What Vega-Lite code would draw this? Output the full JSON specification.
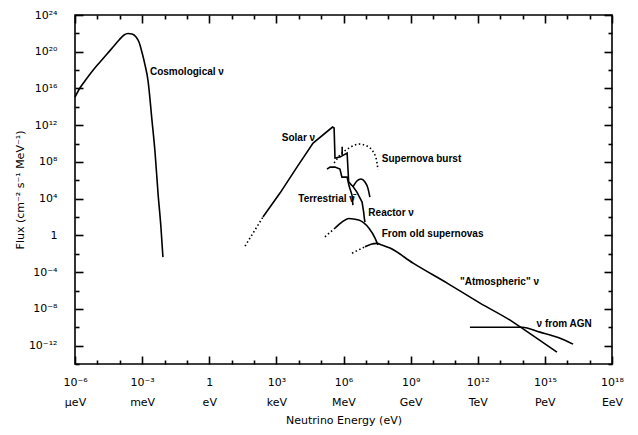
{
  "$schema": "https://vega.github.io/schema/vega-lite/v6.json",
  "width": 537,
  "height": 349,
  "autosize": {"type": "none"},
  "padding": {"left": 75, "top": 15, "right": 26, "bottom": 71},
  "background": "white",
  "config": {
    "view": {"stroke": "black", "strokeWidth": 1.6},
    "font": "Liberation Sans",
    "axis": {"ticks": true, "zindex": 1, "domain": false, "grid": false, "tickColor": "black", "tickWidth": 1.6, "tickOpacity": 1, "labelColor": "black", "titleColor": "black", "labelFont": "DejaVu Sans", "titleFont": "DejaVu Sans", "labelFontSize": 11, "titleFontSize": 11, "titleFontWeight": "normal", "labelOverlap": false, "labelFlush": false, "labelBound": false}
  },
  "datasets": {
    "curves": [
      {"s": "cosmo", "d": "solid", "k": "smooth", "i": 1, "E": 1e-6, "F": 1.17e15},
      {"s": "cosmo", "d": "solid", "k": "smooth", "i": 2, "E": 1.66e-6, "F": 1.12e16},
      {"s": "cosmo", "d": "solid", "k": "smooth", "i": 3, "E": 3.47e-6, "F": 1.38e17},
      {"s": "cosmo", "d": "solid", "k": "smooth", "i": 4, "E": 7.08e-6, "F": 1.32e18},
      {"s": "cosmo", "d": "solid", "k": "smooth", "i": 5, "E": 1.32e-5, "F": 7.59e18},
      {"s": "cosmo", "d": "solid", "k": "smooth", "i": 6, "E": 2.69e-5, "F": 5.62e19},
      {"s": "cosmo", "d": "solid", "k": "smooth", "i": 7, "E": 5.01e-5, "F": 3.24e20},
      {"s": "cosmo", "d": "solid", "k": "smooth", "i": 8, "E": 9.33e-5, "F": 1.91e21},
      {"s": "cosmo", "d": "solid", "k": "smooth", "i": 9, "E": 1.55e-4, "F": 6.61e21},
      {"s": "cosmo", "d": "solid", "k": "smooth", "i": 10, "E": 2.34e-4, "F": 9.55e21},
      {"s": "cosmo", "d": "solid", "k": "smooth", "i": 11, "E": 3.55e-4, "F": 8.51e21},
      {"s": "cosmo", "d": "solid", "k": "smooth", "i": 12, "E": 5.37e-4, "F": 3.98e21},
      {"s": "cosmo", "d": "solid", "k": "smooth", "i": 13, "E": 7.24e-4, "F": 1.15e21},
      {"s": "cosmo", "d": "solid", "k": "smooth", "i": 14, "E": 9.77e-4, "F": 9.33e19},
      {"s": "cosmo", "d": "solid", "k": "smooth", "i": 15, "E": 1.35e-3, "F": 3.55e18},
      {"s": "cosmo", "d": "solid", "k": "smooth", "i": 16, "E": 1.82e-3, "F": 8.32e16},
      {"s": "cosmo", "d": "solid", "k": "smooth", "i": 17, "E": 2.75e-3, "F": 3.63e12},
      {"s": "cosmo", "d": "solid", "k": "smooth", "i": 18, "E": 3.80e-3, "F": 9.33e8},
      {"s": "cosmo", "d": "solid", "k": "smooth", "i": 19, "E": 5.13e-3, "F": 4.07e4},
      {"s": "cosmo", "d": "solid", "k": "smooth", "i": 20, "E": 6.92e-3, "F": 8.13},
      {"s": "cosmo", "d": "solid", "k": "smooth", "i": 21, "E": 8.51e-3, "F": 4.37e-3},

      {"s": "solar_dot", "d": "dotted", "k": "lin", "i": 1, "E": 39.8, "F": 6.92e-2},
      {"s": "solar_dot", "d": "dotted", "k": "lin", "i": 2, "E": 251, "F": 100},

      {"s": "solar", "d": "solid", "k": "lin", "i": 1, "E": 251, "F": 100},
      {"s": "solar", "d": "solid", "k": "lin", "i": 2, "E": 1.45e3, "F": 4.07e4},
      {"s": "solar", "d": "solid", "k": "lin", "i": 3, "E": 8.32e3, "F": 2.75e7},
      {"s": "solar", "d": "solid", "k": "lin", "i": 4, "E": 4.37e4, "F": 1.15e10},
      {"s": "solar", "d": "solid", "k": "lin", "i": 5, "E": 3.24e5, "F": 6.31e11},
      {"s": "solar", "d": "solid", "k": "lin", "i": 6, "E": 3.80e5, "F": 5.01e11},
      {"s": "solar", "d": "solid", "k": "lin", "i": 7, "E": 4.17e5, "F": 2.63e8},
      {"s": "solar", "d": "solid", "k": "lin", "i": 8, "E": 6.92e5, "F": 3.39e8},
      {"s": "solar", "d": "solid", "k": "lin", "i": 9, "E": 1.45e6, "F": 9.33e8},
      {"s": "solar", "d": "solid", "k": "lin", "i": 10, "E": 1.70e6, "F": 6.92e5},
      {"s": "solar", "d": "solid", "k": "lin", "i": 11, "E": 2.40e6, "F": 2.51e5},

      {"s": "be7", "d": "solid", "k": "lin", "i": 1, "E": 8.71e5, "F": 4.47e9},
      {"s": "be7", "d": "solid", "k": "lin", "i": 2, "E": 8.71e5, "F": 5.62e8},

      {"s": "terr", "d": "solid", "k": "lin", "i": 1, "E": 1.82e5, "F": 1.66e7},
      {"s": "terr", "d": "solid", "k": "lin", "i": 2, "E": 2.51e5, "F": 2.75e7},
      {"s": "terr", "d": "solid", "k": "lin", "i": 3, "E": 4.17e5, "F": 2.75e7},
      {"s": "terr", "d": "solid", "k": "lin", "i": 4, "E": 6.92e5, "F": 1.66e7},
      {"s": "terr", "d": "solid", "k": "lin", "i": 5, "E": 8.51e5, "F": 2.24e6},
      {"s": "terr", "d": "solid", "k": "lin", "i": 6, "E": 1.45e6, "F": 2.24e6},
      {"s": "terr", "d": "solid", "k": "lin", "i": 7, "E": 1.78e6, "F": 2.34e5},
      {"s": "terr", "d": "solid", "k": "lin", "i": 8, "E": 2.40e6, "F": 2.45e4},
      {"s": "terr", "d": "solid", "k": "lin", "i": 9, "E": 2.63e6, "F": 2.00e3},

      {"s": "reactor", "d": "solid", "k": "lin", "i": 1, "E": 2.40e6, "F": 3.02e5},
      {"s": "reactor", "d": "solid", "k": "lin", "i": 2, "E": 3.98e6, "F": 5.25e4},
      {"s": "reactor", "d": "solid", "k": "lin", "i": 3, "E": 6.76e6, "F": 4.27e3},
      {"s": "reactor", "d": "solid", "k": "lin", "i": 4, "E": 7.94e6, "F": 372},
      {"s": "reactor", "d": "solid", "k": "lin", "i": 5, "E": 8.51e6, "F": 77.6},
      {"s": "reactor", "d": "solid", "k": "lin", "i": 6, "E": 9.12e6, "F": 28.2},

      {"s": "reactor_arc", "d": "solid", "k": "smooth", "i": 1, "E": 2.63e6, "F": 1.82e5},
      {"s": "reactor_arc", "d": "solid", "k": "smooth", "i": 2, "E": 3.98e6, "F": 8.32e5},
      {"s": "reactor_arc", "d": "solid", "k": "smooth", "i": 3, "E": 6.03e6, "F": 1.38e6},
      {"s": "reactor_arc", "d": "solid", "k": "smooth", "i": 4, "E": 9.12e6, "F": 6.46e5},
      {"s": "reactor_arc", "d": "solid", "k": "smooth", "i": 5, "E": 1.23e7, "F": 1.41e5},
      {"s": "reactor_arc", "d": "solid", "k": "smooth", "i": 6, "E": 1.51e7, "F": 1.48e4},

      {"s": "snburst", "d": "dotted", "k": "smooth", "i": 1, "E": 3.80e5, "F": 7.59e7},
      {"s": "snburst", "d": "dotted", "k": "smooth", "i": 2, "E": 8.51e5, "F": 9.33e8},
      {"s": "snburst", "d": "dotted", "k": "smooth", "i": 3, "E": 1.78e6, "F": 3.24e9},
      {"s": "snburst", "d": "dotted", "k": "smooth", "i": 4, "E": 4.90e6, "F": 8.91e9},
      {"s": "snburst", "d": "dotted", "k": "smooth", "i": 5, "E": 1.12e7, "F": 5.37e9},
      {"s": "snburst", "d": "dotted", "k": "smooth", "i": 6, "E": 2.29e7, "F": 9.33e8},
      {"s": "snburst", "d": "dotted", "k": "smooth", "i": 7, "E": 3.16e7, "F": 7.59e7},
      {"s": "snburst", "d": "dotted", "k": "smooth", "i": 8, "E": 3.47e7, "F": 1.32e7},

      {"s": "oldsn_dot", "d": "dotted", "k": "lin", "i": 1, "E": 1.48e5, "F": 0.708},
      {"s": "oldsn_dot", "d": "dotted", "k": "lin", "i": 2, "E": 4.17e5, "F": 6.31},

      {"s": "oldsn", "d": "solid", "k": "smooth", "i": 1, "E": 4.17e5, "F": 6.31},
      {"s": "oldsn", "d": "solid", "k": "smooth", "i": 2, "E": 8.51e5, "F": 28.2},
      {"s": "oldsn", "d": "solid", "k": "smooth", "i": 3, "E": 1.70e6, "F": 70.8},
      {"s": "oldsn", "d": "solid", "k": "smooth", "i": 4, "E": 4.79e6, "F": 46.8},
      {"s": "oldsn", "d": "solid", "k": "smooth", "i": 5, "E": 1.35e7, "F": 6.31},
      {"s": "oldsn", "d": "solid", "k": "smooth", "i": 6, "E": 2.57e7, "F": 0.513},
      {"s": "oldsn", "d": "solid", "k": "smooth", "i": 7, "E": 3.47e7, "F": 8.91e-2},

      {"s": "atm_dot", "d": "dotted", "k": "lin", "i": 1, "E": 2.40e6, "F": 1.17e-2},
      {"s": "atm_dot", "d": "dotted", "k": "lin", "i": 2, "E": 9.12e6, "F": 5.75e-2},

      {"s": "atm", "d": "solid", "k": "smooth", "i": 1, "E": 9.12e6, "F": 5.75e-2},
      {"s": "atm", "d": "solid", "k": "smooth", "i": 2, "E": 1.70e7, "F": 0.112},
      {"s": "atm", "d": "solid", "k": "smooth", "i": 3, "E": 3.16e7, "F": 0.135},
      {"s": "atm", "d": "solid", "k": "smooth", "i": 4, "E": 5.25e7, "F": 8.91e-2},
      {"s": "atm", "d": "solid", "k": "smooth", "i": 5, "E": 1.20e8, "F": 4.17e-2},
      {"s": "atm", "d": "solid", "k": "smooth", "i": 6, "E": 1.29e9, "F": 9.55e-4},
      {"s": "atm", "d": "solid", "k": "smooth", "i": 7, "E": 4.27e10, "F": 6.46e-6},
      {"s": "atm", "d": "solid", "k": "smooth", "i": 8, "E": 1.26e12, "F": 4.27e-8},
      {"s": "atm", "d": "solid", "k": "smooth", "i": 9, "E": 3.80e13, "F": 3.63e-10},
      {"s": "atm", "d": "solid", "k": "smooth", "i": 10, "E": 9.55e13, "F": 7.94e-11},
      {"s": "atm", "d": "solid", "k": "smooth", "i": 11, "E": 3.47e15, "F": 1.95e-13},

      {"s": "agn", "d": "solid", "k": "smooth", "i": 1, "E": 4.47e11, "F": 1.02e-10},
      {"s": "agn", "d": "solid", "k": "smooth", "i": 2, "E": 9.55e13, "F": 1.02e-10},
      {"s": "agn", "d": "solid", "k": "smooth", "i": 3, "E": 6.03e14, "F": 2.95e-11},
      {"s": "agn", "d": "solid", "k": "smooth", "i": 4, "E": 4.79e15, "F": 6.46e-12},
      {"s": "agn", "d": "solid", "k": "smooth", "i": 5, "E": 1.82e16, "F": 1.45e-12}
    ],
    "labels": [
      {"label": "Cosmological ν", "E": 2.24e-3, "F": 6.17e17},
      {"label": "Solar ν", "E": 1.74e3, "F": 3.98e10},
      {"label": "Supernova burst", "E": 5.13e7, "F": 1.91e8},
      {"label": "Terrestrial ν̄", "E": 9.55e3, "F": 8.32e3},
      {"label": "Reactor ν", "E": 1.29e7, "F": 295},
      {"label": "From old supernovas", "E": 5.13e7, "F": 1.29},
      {"label": "\"Atmospheric\" ν", "E": 1.62e11, "F": 8.91e-6},
      {"label": "ν from AGN", "E": 4.27e14, "F": 2.19e-10}
    ]
  },
  "layer": [
    {
      "data": {"name": "curves"},
      "transform": [{"filter": "datum.k == 'lin' && datum.d == 'solid'"}],
      "mark": {"type": "line", "interpolate": "linear", "color": "black", "strokeWidth": 1.6},
      "encoding": {
        "x": {
          "field": "E", "type": "quantitative",
          "scale": {"type": "log", "domain": [1e-6, 1e18], "nice": false},
          "axis": {
            "orient": "bottom",
            "offset": -8,
            "values": [1e-6, 1e-3, 1, 1e3, 1e6, 1e9, 1e12, 1e15, 1e18],
            "tickSize": 8,
            "labelExpr": "[['10⁻⁶','μeV'],['10⁻³','meV'],['1','eV'],['10³','keV'],['10⁶','MeV'],['10⁹','GeV'],['10¹²','TeV'],['10¹⁵','PeV'],['10¹⁸','EeV']][round(log(datum.value)/LN10)/3 + 2]",
            "labelLineHeight": 20,
            "labelPadding": 12,
            "title": "Neutrino Energy (eV)",
            "titlePadding": 7
          }
        },
        "y": {
          "field": "F", "type": "quantitative",
          "scale": {"type": "log", "domain": [1e-14, 1e24], "nice": false},
          "axis": {
            "orient": "left",
            "offset": -8,
            "values": [1e-12, 1e-8, 1e-4, 1, 1e4, 1e8, 1e12, 1e16, 1e20, 1e24],
            "tickSize": 8,
            "labelExpr": "['10⁻¹²','10⁻⁸','10⁻⁴','1','10⁴','10⁸','10¹²','10¹⁶','10²⁰','10²⁴'][(round(log(datum.value)/LN10)+12)/4]",
            "labelPadding": 18,
            "title": "Flux (cm⁻² s⁻¹ MeV⁻¹)",
            "titlePadding": 3
          }
        },
        "detail": {"field": "s", "type": "nominal"},
        "order": {"field": "i", "type": "quantitative"}
      }
    },
    {
      "data": {"name": "curves"},
      "transform": [{"filter": "datum.k == 'smooth' && datum.d == 'solid'"}],
      "mark": {"type": "line", "interpolate": "monotone", "color": "black", "strokeWidth": 1.6},
      "encoding": {
        "x": {
          "field": "E", "type": "quantitative",
          "axis": {"orient": "bottom", "offset": -4, "labels": false, "title": null, "tickSize": 4,
            "values": [1e-5, 1e-4, 1e-2, 1e-1, 10, 100, 1e4, 1e5, 1e7, 1e8, 1e10, 1e11, 1e13, 1e14, 1e16, 1e17]}
        },
        "y": {
          "field": "F", "type": "quantitative",
          "axis": {"orient": "left", "offset": -4, "labels": false, "title": null, "tickSize": 4,
            "values": [1e-14, 1e-10, 1e-6, 1e-2, 100, 1e6, 1e10, 1e14, 1e18, 1e22]}
        },
        "detail": {"field": "s", "type": "nominal"},
        "order": {"field": "i", "type": "quantitative"}
      }
    },
    {
      "data": {"name": "curves"},
      "transform": [{"filter": "datum.d == 'dotted'"}],
      "mark": {"type": "line", "interpolate": "monotone", "color": "black", "strokeWidth": 1.6, "strokeDash": [1.5, 2.5]},
      "encoding": {
        "x": {
          "field": "E", "type": "quantitative",
          "axis": {"orient": "top", "offset": -8, "labels": false, "title": null, "tickSize": 8,
            "values": [1e-6, 1e-3, 1, 1e3, 1e6, 1e9, 1e12, 1e15, 1e18]}
        },
        "y": {
          "field": "F", "type": "quantitative",
          "axis": {"orient": "right", "offset": -8, "labels": false, "title": null, "tickSize": 8,
            "values": [1e-12, 1e-8, 1e-4, 1, 1e4, 1e8, 1e12, 1e16, 1e20, 1e24]}
        },
        "detail": {"field": "s", "type": "nominal"},
        "order": {"field": "i", "type": "quantitative"}
      }
    },
    {
      "data": {"name": "labels"},
      "mark": {"type": "text", "align": "left", "baseline": "middle", "fontSize": 10, "fontWeight": "bold", "color": "black"},
      "encoding": {
        "x": {
          "field": "E", "type": "quantitative",
          "axis": {"orient": "top", "offset": -4, "labels": false, "title": null, "tickSize": 4,
            "values": [1e-5, 1e-4, 1e-2, 1e-1, 10, 100, 1e4, 1e5, 1e7, 1e8, 1e10, 1e11, 1e13, 1e14, 1e16, 1e17]}
        },
        "y": {
          "field": "F", "type": "quantitative",
          "axis": {"orient": "right", "offset": -4, "labels": false, "title": null, "tickSize": 4,
            "values": [1e-14, 1e-10, 1e-6, 1e-2, 100, 1e6, 1e10, 1e14, 1e18, 1e22]}
        },
        "text": {"field": "label", "type": "nominal"}
      }
    }
  ],
  "resolve": {"axis": {"x": "independent", "y": "independent"}}
}
